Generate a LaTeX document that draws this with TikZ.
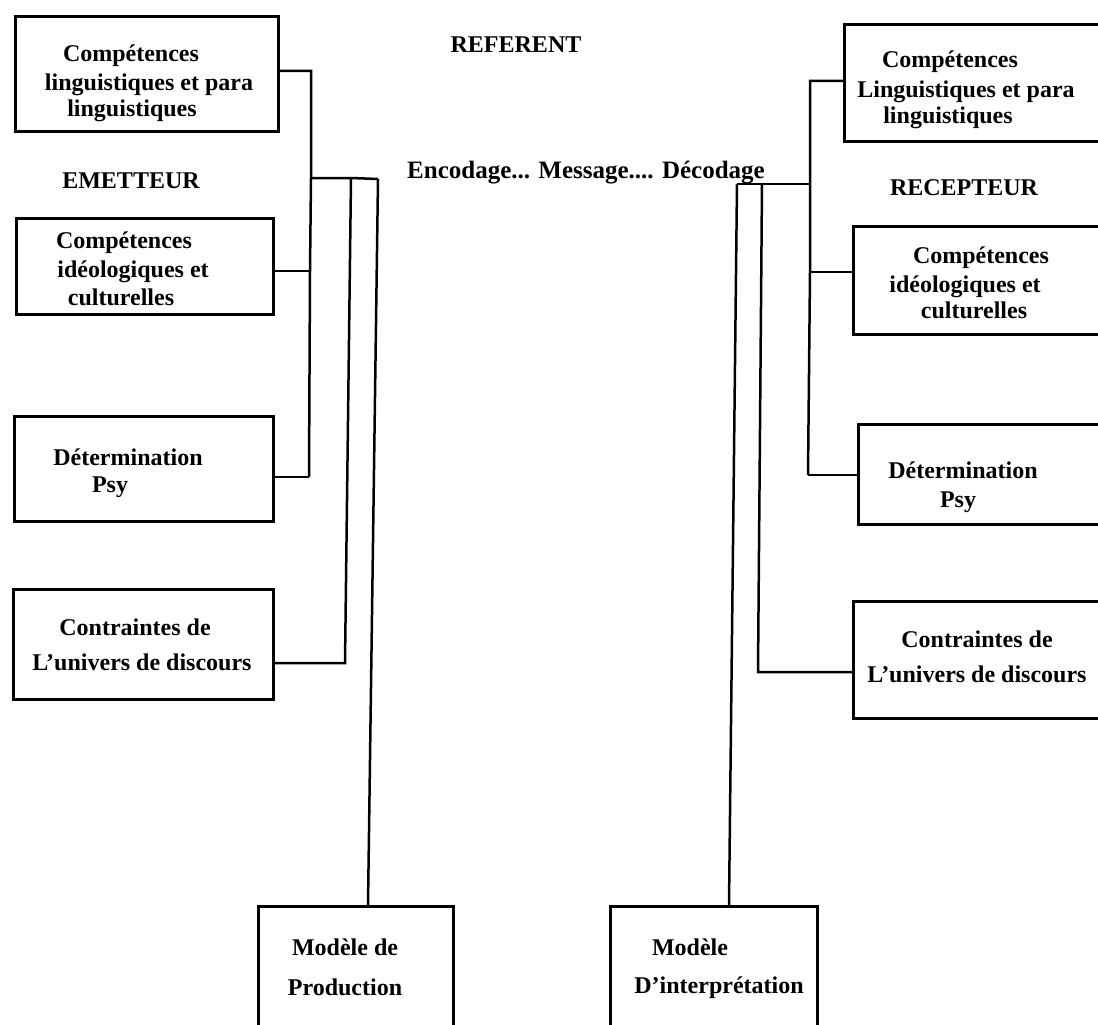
\documentclass[tikz,border=0pt]{standalone}
\usepackage{fontspec}
\setmainfont{Liberation Serif}
\begin{document}
\begin{tikzpicture}[x=1pt,y=-1pt,
  box/.style={draw,line width=2.6pt,inner sep=0pt,anchor=north west},
  txt/.style={font=\fontsize{24}{28}\selectfont\bfseries,anchor=base,inner sep=0pt},
  link/.style={line width=2.5pt}]
\useasboundingbox (0,0) rectangle (1098,1025);

% ---- emitter side: boxes ----
\node[box,minimum width=263pt,minimum height=115pt] (L1) at (14,15) {};
\node[box,minimum width=257pt,minimum height=96pt]  (L2) at (15,217) {};
\node[box,minimum width=259pt,minimum height=105pt] (L3) at (13,415) {};
\node[box,minimum width=260pt,minimum height=110pt] (L4) at (12,588) {};

\node[txt] (L1a) at (131,62)  {Compétences};
\node[txt] (L1b) at (149,91)  {linguistiques et para};
\node[txt] (L1c) at (132,117) {linguistiques};
\node[txt] (emet) at (131,188) {EMETTEUR};
\node[txt] (L2a) at (124,248) {Compétences};
\node[txt] (L2b) at (133,277) {idéologiques et};
\node[txt] (L2c) at (121,305) {culturelles};
\node[txt] (L3a) at (128,465) {Détermination};
\node[txt] (L3b) at (110,492) {Psy};
\node[txt] (L4a) at (135,635) {Contraintes de};
\node[txt] (L4b) at (142,670) {L’univers de discours};

% ---- receiver side: boxes (open to the right) ----
\node[box,minimum width=267pt,minimum height=117pt] (R1) at (843,23) {};
\node[box,minimum width=258pt,minimum height=108pt] (R2) at (852,225) {};
\node[box,minimum width=253pt,minimum height=100pt] (R3) at (857,423) {};
\node[box,minimum width=258pt,minimum height=117pt] (R4) at (852,600) {};

\node[txt] (R1a) at (950,68)  {Compétences};
\node[txt] (R1b) at (966,97)  {Linguistiques et para};
\node[txt] (R1c) at (948,123) {linguistiques};
\node[txt] (recp) at (964,195) {RECEPTEUR};
\node[txt] (R2a) at (981,263) {Compétences};
\node[txt] (R2b) at (965,292) {idéologiques et};
\node[txt] (R2c) at (974,318) {culturelles};
\node[txt] (R3a) at (963,478) {Détermination};
\node[txt] (R3b) at (958,507) {Psy};
\node[txt] (R4a) at (977,647) {Contraintes de};
\node[txt] (R4b) at (977,682) {L’univers de discours};

% ---- centre ----
\node[txt] (ref) at (516,53) {REFERENT};
\node[txt,font=\fontsize{25}{28}\selectfont\bfseries] (msg) at (586,178) {Encodage... Message.... Décodage};

% ---- models at the bottom ----
\node[box,minimum width=195pt,minimum height=135pt] (B1) at (257,905) {};
\node[box,minimum width=207pt,minimum height=135pt] (B2) at (609,905) {};
\node[txt] (B1a) at (345,955) {Modèle de};
\node[txt] (B1b) at (345,995) {Production};
\node[txt] (B2a) at (690,955) {Modèle};
\node[txt] (B2b) at (719,993) {D’interprétation};

% ---- emitter junctions ----
\coordinate (eTop) at (311,71);
\coordinate (eMid) at (311,178);
\coordinate (eL2)  at (310,271);
\coordinate (eBot) at (309,477);
\coordinate (eS2)  at (351,178);
\coordinate (eL4)  at (345,663);
\coordinate (eEnd) at (378,179);

\draw[link] (L1.east |- eTop) -- (eTop) -- (eMid) -- (eL2) -- (eBot);
\draw[link] (L2.east |- eL2) -- (eL2);
\draw[link] (L3.east |- eBot) -- (eBot);
\draw[link] (eMid) -- (eS2) -- (eEnd);
\draw[link] (eS2) -- (eL4) -- (L4.east |- eL4);
\draw[link] (eEnd) -- (B1.north -| 368,0);

% ---- receiver junctions ----
\coordinate (rTop) at (810,81);
\coordinate (rMid) at (810,184);
\coordinate (rL2)  at (810,272);
\coordinate (rBot) at (808,475);
\coordinate (rS2)  at (762,184);
\coordinate (rL4)  at (758,672);
\coordinate (rEnd) at (737,184);

\draw[link] (R1.west |- rTop) -- (rTop) -- (rMid) -- (rL2) -- (rBot);
\draw[link] (R2.west |- rL2) -- (rL2);
\draw[link] (R3.west |- rBot) -- (rBot);
\draw[link] (rMid) -- (rS2) -- (rEnd);
\draw[link] (rS2) -- (rL4) -- (R4.west |- rL4);
\draw[link] (rEnd) -- (B2.north -| 729,0);
\end{tikzpicture}
\end{document}
